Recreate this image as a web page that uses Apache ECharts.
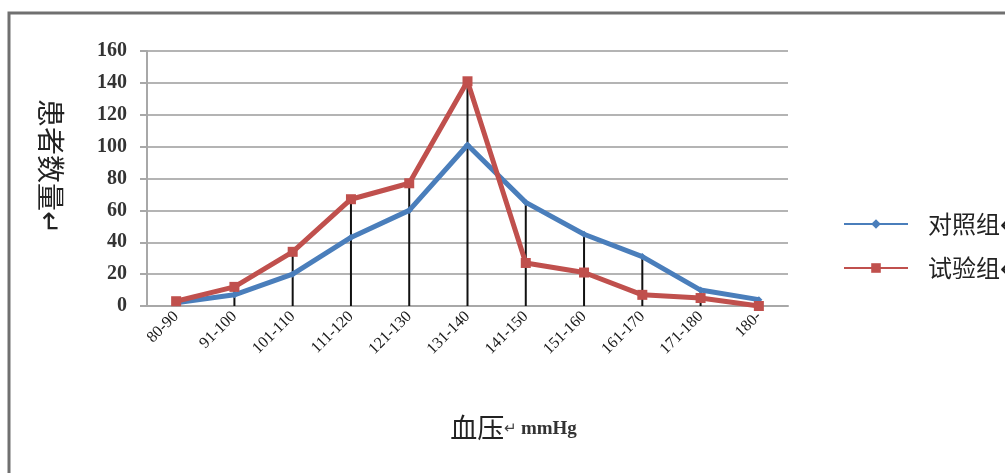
<!DOCTYPE html>
<html>
<head>
<meta charset="utf-8">
<script src="https://cdn.jsdelivr.net/npm/echarts@6/dist/echarts.min.js"></script>
<style>
  html, body { margin: 0; padding: 0; background: #fff; }
  #chart { width: 1005px; height: 473px; }
</style>
</head>
<body>
<div id="chart"></div>
<script>
// 血压分组
const categories = ['80-90', '91-100', '101-110', '111-120', '121-130', '131-140', '141-150', '151-160', '161-170', '171-180', '180-']
// 对照组
const controlGroup = [2, 7, 20, 43, 60, 101, 65, 45, 31, 10, 4]
// 试验组
const testGroup = [3, 12, 34, 67, 77, 141, 27, 21, 7, 5, 0]
const yTicks = [0, 20, 40, 60, 80, 100, 120, 140, 160]

// drop lines go from the higher of the two points down to the axis
const dropLines = categories.map((c, i) => Math.max(controlGroup[i], testGroup[i]))

const chart = echarts.init(document.getElementById('chart'))
chart.setOption({
    animation: false,
    backgroundColor: '#fff',
    graphic: [{
        type: 'rect',
        shape: {x: 9, y: 13, width: 1100, height: 520},
        style: {fill: 'none', stroke: '#707070', lineWidth: 3},
        silent: true
    }],
    grid: {left: 147, right: 217, top: 51, bottom: 167},
    legend: {
        orient: 'vertical',
        left: 838,
        top: 207,
        itemWidth: 64,
        itemHeight: 12,
        itemGap: 20,
        data: ['对照组', '试验组'],
        textStyle: {fontFamily: 'Noto Sans CJK SC', fontSize: 24, color: '#222', padding: [0, 0, 0, 15]},
        formatter: n => n + '↵'
    },
    xAxis: {
        type: 'category',
        data: categories,
        boundaryGap: true,
        axisLine: {lineStyle: {color: '#a8a8a8', width: 2}},
        axisTick: {show: false},
        axisLabel: {
            rotate: 45,
            interval: 0,
            margin: 8,
            fontFamily: 'Liberation Serif',
            fontSize: 16,
            color: '#1a1a1a'
        },
        name: '{a|血压}{b|↵ }{c|mmHg}',
        nameLocation: 'middle',
        nameGap: 108,
        nameTextStyle: {
            padding: [0, 0, 0, 92],
            rich: {
                a: {fontFamily: 'Noto Sans CJK SC', fontSize: 27, color: '#222'},
                b: {fontFamily: 'Liberation Serif', fontSize: 15, color: '#444', padding: [4, 0, 0, 0]},
                c: {fontFamily: 'Liberation Serif', fontSize: 19, fontWeight: 'bold', color: '#333', padding: [4, 0, 0, 0]}
            }
        }
    },
    yAxis: {
        type: 'value',
        min: yTicks[0],
        max: yTicks[yTicks.length - 1],
        interval: yTicks[1] - yTicks[0],
        axisLine: {show: true, lineStyle: {color: '#a8a8a8', width: 2}},
        axisTick: {show: true, length: 7, lineStyle: {color: '#a8a8a8', width: 2}},
        splitLine: {lineStyle: {color: '#b4b4b4', width: 2}},
        axisLabel: {
            margin: 20,
            fontFamily: 'Liberation Serif',
            fontWeight: 'bold',
            fontSize: 20,
            color: '#333'
        },
        name: '患者数量↵',
        nameLocation: 'middle',
        nameRotate: -90,
        nameGap: 82,
        nameTextStyle: {fontFamily: 'Noto Sans CJK SC', fontSize: 28, color: '#222', padding: [0, 24, 0, 0]}
    },
    series: [
        {
            name: 'drop',
            type: 'bar',
            data: dropLines,
            barWidth: 2,
            itemStyle: {color: '#111'},
            z: 1,
            silent: true
        },
        {
            name: '对照组',
            type: 'line',
            data: controlGroup,
            symbol: 'diamond',
            symbolSize: 7,
            lineStyle: {color: '#4a7ebb', width: 5},
            itemStyle: {color: '#4a7ebb'},
            z: 3
        },
        {
            name: '试验组',
            type: 'line',
            data: testGroup,
            symbol: 'rect',
            symbolSize: 10,
            lineStyle: {color: '#c0504d', width: 5},
            itemStyle: {color: '#c0504d'},
            z: 4
        }
    ]
})
</script>
</body>
</html>
